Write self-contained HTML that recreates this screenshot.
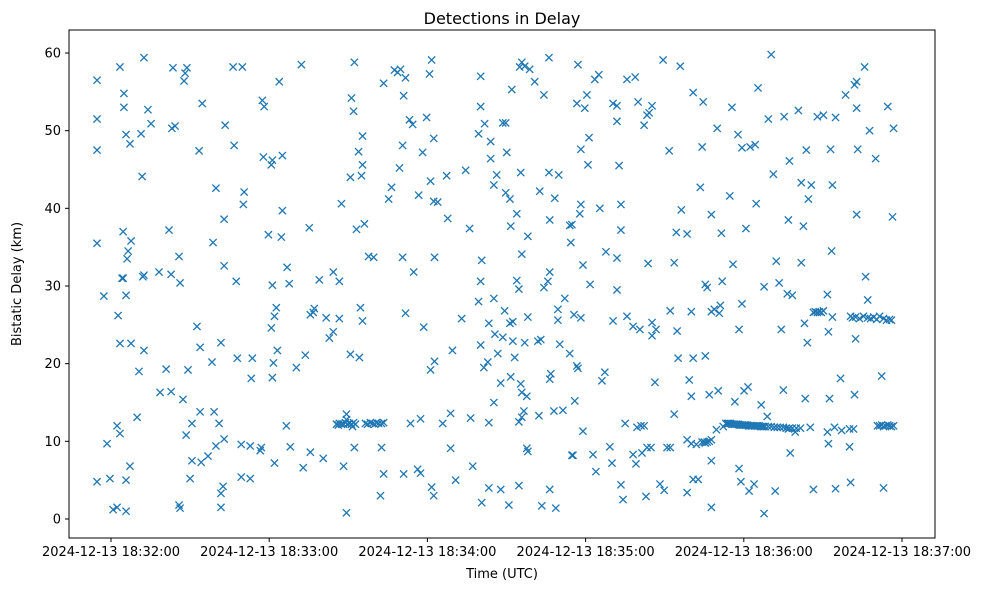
<!DOCTYPE html>
<html><head><meta charset="utf-8"><style>
html,body{margin:0;padding:0;background:#fff}
svg{display:block;font-family:"DejaVu Sans","Liberation Sans",sans-serif}
</style></head><body>
<svg id="chart" width="986" height="590" viewBox="0 0 986 590" xmlns="http://www.w3.org/2000/svg">
<rect x="0" y="0" width="986" height="590" fill="#fff"/>
<text x="502" y="24" text-anchor="middle" font-size="16" fill="#000">Detections in Delay</text>
<g id="marks"></g>
<rect x="69" y="30" width="866" height="508" fill="none" stroke="#000" stroke-width="1"/>
<g id="xticks"></g>
<g id="yticks"></g>
<text x="502" y="578" text-anchor="middle" font-size="13" fill="#000">Time (UTC)</text>
<text transform="translate(21,284) rotate(-90)" text-anchor="middle" font-size="13" fill="#000">Bistatic Delay (km)</text>
</svg>
<script>
// time in seconds after 18:32:00 UTC, delay in km
const xTickSeconds=[0,60,120,180,240,300];
const xTickLabels=["2024-12-13 18:32:00","2024-12-13 18:33:00","2024-12-13 18:34:00","2024-12-13 18:35:00","2024-12-13 18:36:00","2024-12-13 18:37:00"];
const yTickValues=[0,10,20,30,40,50,60];
const detections=[
[-5.3,56.5],[-5.3,51.5],[-5.3,47.5],[-5.3,35.5],[-5.3,4.8],[-2.7,28.7],[-1.5,9.7],[-0.4,5.2],[0.8,1.2],[2.3,1.5],[2.3,12],[2.7,26.2],
[3.4,58.2],[3.4,22.6],[3.4,11],[4.2,31],[4.6,37],[4.6,31],[4.9,54.8],[4.9,53],[5.7,49.5],[5.7,28.8],[5.7,5],[5.7,1],[6.1,33.5],[6.5,34.5],
[7.2,48.3],[7.2,6.8],[7.6,35.8],[7.6,22.6],[9.9,13.1],[10.6,19],[11.4,49.6],[11.8,44.1],[12.1,31.2],[12.5,21.7],[12.5,59.4],[12.5,31.4],
[14,52.7],[15.2,50.9],[18.2,31.8],[18.6,16.3],[20.9,19.3],[22,37.2],[22.8,16.4],[22.8,31.5],[23.1,50.3],[23.5,58.1],[24.3,50.6],
[25.8,1.8],[25.8,33.8],[26.2,1.4],[26.2,30.4],[27.3,15.4],[27.7,56.4],[28.1,57.4],[28.5,10.8],[28.8,58.1],[29.2,19.2],[30,5.2],[30.7,12.3],[30.7,7.5],
[32.6,24.8],[33.4,47.4],[33.8,22.1],[33.8,13.8],[34.2,7.3],[34.6,53.5],[36.8,8.1],[38.3,20.2],[38.7,35.6],[39.1,13.8],[39.8,42.6],[39.8,9.4],
[41,12.3],[41.7,1.5],[41.7,3.3],[41.7,22.7],[42.5,4.2],[42.9,38.6],[42.9,32.6],[42.9,10.3],[43.3,50.7],[46.3,58.2],[46.7,48.1],[47.5,30.6],[47.9,20.7],
[49.4,9.6],[49.4,5.4],[49.8,58.2],[50.2,40.5],[50.5,42.1],[52.8,9.4],[52.8,5.2],[53.2,18.1],[53.6,20.7],[56.6,8.8],[57,9.2],[57.4,53.9],[57.8,46.6],[58.1,53.1],
[59.7,36.6],[60.8,45.6],[60.8,24.6],[61.2,46.2],[61.2,30.1],[61.2,18.2],[61.6,20.1],[62,26.1],[62,7.2],[62.7,27.2],[63.1,21.7],[63.8,56.3],[64.6,36.3],[65,46.8],[65,39.7],
[66.5,12],[66.8,32.4],[67.6,30.3],[68,9.3],[70.3,19.5],[72.2,58.5],[72.9,6.6],[73.7,21.1],[75.2,37.5],[75.6,26.3],[75.6,8.6],[76.7,26.6],[77.1,27.1],[79,30.8],
[80.5,7.8],[81.6,25.9],[82.8,23.3],[84.3,31.8],[84.3,24.1],[86.6,25.8],[86.6,30.6],[87.4,40.6],[88.2,6.8],[89.3,0.8],
[85.5,12.2],[86.2,12.1],[86.6,12.3],[87.4,12.2],[88.2,12.2],[88.9,12.4],[89.3,12.8],[89.3,13.5],[89.7,12.2],[90.4,12.3],[91.2,12.2],[92,12.4],[92.7,12.2],[91.6,11.9],
[90.8,21.2],[90.8,44],[91.2,54.2],[92,52.5],[92.3,58.8],[92.3,9.2],[93.1,37.3],[93.9,47.3],[94.2,20.8],[94.6,27.2],[95,44.2],[95.4,25.5],[95.4,45.6],[95.4,49.3],[96.1,38],[97.7,33.8],[99.6,33.7],
[96.5,12.3],[97.3,12.2],[98.4,12.4],[99.2,12.3],[100,12.2],[100.7,12.4],[101.5,12.3],[102.6,12.3],[103.4,12.4],
[102.2,3],[102.6,9.2],[103.4,5.8],[103.4,56.1],[105.3,41.2],[106.4,42.7],[107.5,57.8],[108.7,57.5],[109.4,45.2],[109.8,57.9],[110.6,48.1],[110.6,33.7],[111,54.5],[111,5.8],
[111.7,26.5],[111.7,56.8],[113.2,51.4],[113.6,12.3],[114.4,50.8],[114.8,31.8],[116.3,6.4],[116.7,41.7],[117.4,5.9],[117.4,12.9],[118.2,47.2],[118.6,24.7],[119.7,51.7],
[120.8,57.3],[121.2,43.5],[121.2,19.2],[121.6,59.1],[121.6,4.1],[122.4,49],[122.4,40.9],[122.4,3],[122.7,33.7],[122.7,20.3],[123.9,40.8],[125.8,12.3],[127.3,44.2],[127.7,38.7],
[128.8,13.6],[128.8,9.1],[129.5,21.7],[130.7,5],[133,25.8],[134.5,44.9],[136,37.4],[136.4,13],[137.2,6.8],[139.4,49.6],[139.4,28],[140.2,57],[140.2,53.1],[140.2,30.6],[140.2,22.4],
[140.6,33.3],[140.6,2.1],[141.4,19.5],[141.7,50.9],[142.9,20.2],[143.3,25.2],[143.3,12.4],[143.3,4],[144,48.6],[144,46.4],[145.2,43],[145.2,28.4],[145.2,15],[145.6,23.8],[146.3,44.3],[146.7,21.3],
[147.8,17.5],[147.8,3.8],[148.6,23.4],[148.6,51],[149.3,26.8],[149.7,42],[149.7,51],[150.1,47.2],[150.9,1.8],[151.3,41.2],[151.3,25.2],[151.6,37.7],[151.6,18.3],[152,55.3],[152.4,25.4],[152.4,22.9],
[153.1,20.8],[153.9,39.3],[153.9,30.7],[154.7,29.6],[154.7,12.5],[154.7,4.3],[155,58.2],[155.4,44.6],[155.4,17.4],[155.8,58.8],[155.8,34.1],[155.8,16.3],[155.8,13.1],[156.6,13.9],
[156.9,58.3],[156.9,22.7],[157.7,9.1],[157.7,15.8],[158.1,36.4],[158.1,26],[158.1,8.7],[158.8,57.9],[160.7,56.3],[161.9,22.9],[162.3,13.3],[162.6,42.2],[163,23.1],[163.4,1.7],
[164.2,54.6],[164.2,29.8],[165.7,30.6],[166.1,44.6],[166.1,59.4],[166.4,18],[166.4,31.8],[166.4,38.5],[166.4,3.8],[166.8,18.7],[168,13.9],[168.3,41.3],[168.7,1.4],[169.5,25.6],[169.5,27],
[169.8,44.3],[170.2,22.5],[171.4,14],[172.1,28.4],[174,21.3],[174,37.8],[174.4,35.6],[174.8,8.2],[174.8,37.9],[175.2,8.2],[175.6,26.3],[175.9,15.2],[176.7,19.7],[176.7,53.5],[177.1,19.4],[177.1,58.5],
[177.8,39.3],[178.2,47.6],[178.2,40.5],[178.2,25.9],[179,32.7],[179,11.3],[179.7,52.9],[180.5,54.6],[180.9,45.6],[181.3,49.1],[181.7,30.2],[182.8,8.3],[183.5,56.6],[183.9,6.1],[185,57.2],[185.4,40],
[186.2,17.8],[187.3,18.9],[187.7,34.4],[189.2,9.3],[190,7.2],[190.4,25.5],[190.4,53.5],[191.9,53.2],[191.9,51.2],[191.9,29.5],[191.9,33.6],[192.7,45.5],[193.4,40.5],[193.4,37.2],[193.4,4.4],
[194.2,2.5],[195,12.3],[195.7,26.1],[195.7,56.6],[198,24.8],[198,8.3],[198.8,56.9],[199.1,7.1],[199.5,11.8],[199.9,53.7],[200.6,24.4],[201,12],[201.4,8.5],[202.2,50.7],[202.2,12],[202.9,2.9],
[203.3,52],[203.3,9.2],[203.7,32.9],[204.1,52.3],[204.8,9.2],[205.2,53.2],[205.2,25.3],[205.2,23.6],[206.3,17.6],[206.7,24.4],[208.2,4.5],[209.4,59.1],[209.8,3.7],[210.9,9.2],[211.7,47.4],
[212.1,9.2],[212.1,26.8],[213.6,13.5],[213.6,33],[214.4,36.9],[214.7,24.2],[215.1,20.7],[215.9,58.3],[216.3,39.8],[218.5,3.4],[218.5,10.2],[218.5,36.7],[219.3,17.9],[220.1,9.7],[220.1,15.8],[220.1,26.7],
[220.8,20.7],[220.8,54.9],[220.8,5.1],[222,9.6],[222.7,5.1],[223.5,42.7],[224.2,47.9],[224.2,9.9],[224.6,53.7],[225,9.9],[225.4,30.2],[225.4,21],[225.4,9.8],[226.1,29.8],[226.1,9.9],[226.9,16],[226.9,10],
[227.7,1.5],[227.7,26.7],[227.7,39.2],[227.7,7.5],[227.7,10.2],[228.8,27],[229.6,11.5],[229.9,50.3],[230.3,16.5],[230.7,26.5],[231.1,27.5],[231.5,36.8],[231.8,30.6],[232.2,11.9],
[233.2,12.3],[233.8,12.3],[234.3,12.3],[234.9,12.3],[235.5,12.2],[236,12.2],[236.6,12.2],[237.2,12.2],[237.8,12.2],[238.3,12.1],[238.9,12.1],[239.5,12.1],[240.1,12.1],[240.6,12.1],
[241.2,12.1],[241.8,12],[242.4,12],[242.9,12],[243.5,12],[244.1,12],[244.7,12],[245.2,12],[245.8,12],[246.4,11.9],[247,11.9],[247.5,11.9],[248.1,11.9],[249.3,11.9],[250.4,11.9],
[251.6,11.8],[252.7,11.8],[253.8,11.8],[255,11.8],[256.1,11.7],[257.3,11.7],[258.4,11.7],[259.9,11.7],[261.5,11.7],
[234.7,41.6],[235.5,53],[235.9,32.8],[236.6,15.1],[237.8,49.5],[238.2,6.5],[238.2,24.4],[238.9,4.8],[239.3,47.8],[239.3,27.7],[240.1,16.5],[240.8,37.4],[241.6,17],[242,3.6],[242.4,47.9],
[243.9,4.5],[244.3,48.2],[244.7,40.6],[245.4,55.5],[246.6,14.7],[247.7,0.7],[247.7,29.9],[248.9,13.2],[249.3,51.5],[250.4,59.8],[251.2,44.4],[251.9,3.6],[252.3,33.2],[253.4,30.4],[254.2,24.4],
[255,16.6],[255.3,51.8],[256.5,29],[256.9,38.5],[256.9,11.6],[257.3,46.1],[257.6,8.5],[258.4,28.8],[259.5,11.2],[260.7,52.6],[261.8,43.3],[261.8,33],[262.6,37.7],[263,25.2],[263.3,15.5],
[263.7,47.5],[264.1,22.7],[264.5,41.2],[265.2,11.8],[265.6,43],
[266.4,26.6],[267.1,26.7],[267.9,26.6],[268.6,26.7],[269.4,26.6],[270.2,26.8],
[266.4,3.8],[267.9,51.8],[270.2,52],[271.7,28.9],[271.7,11.2],[272.1,24.1],[272.1,9.7],[272.5,15.5],[272.9,47.6],[273.3,34.5],[273.6,43],[273.6,26],[274.4,11.8],[274.8,3.9],[274.8,51.7],
[276.7,18.1],[277.1,11.4],[278.6,54.6],[280.1,9.3],[280.1,11.6],[280.5,4.7],[281.6,11.6],[282,55.9],[282,16],[282.4,23.2],[282.8,56.3],[282.8,52.9],[282.8,39.2],[283.2,47.6],
[285.8,58.2],[286.2,31.2],[287,28.2],[287.7,50],[290,46.4],[292.3,18.4],[293,4],[294.6,53.1],[296.4,38.9],[296.8,50.3],
[280.5,26.1],[281.2,25.9],[282.4,26],[283.9,25.8],[285.4,26.1],[287,25.9],[288.1,25.8],[289.3,26],[290.4,25.7],[291.5,26.1],[293,25.8],[294.1,25.6],[295.3,25.7],[296,25.6],
[290.7,12],[291.5,12],[292.3,12.1],[293,11.9],[293.8,12],[294.6,12.1],[295.3,12],[296,11.9],[296.8,12]
];
const NS="http://www.w3.org/2000/svg";
const PX0=111, PXPERSEC=158.2/60, PY0=519, PYPERKM=466/60;
function xScale(t){return PX0+t*PXPERSEC;}
function yScale(v){return PY0-v*PYPERKM;}
const marks=document.getElementById('marks');
detections.forEach(function(p,i){
  const cx=xScale(p[0]), cy=yScale(p[1]), r=3.6;
  const path=document.createElementNS(NS,'path');
  path.setAttribute('d','M'+(cx-r)+' '+(cy-r)+'L'+(cx+r)+' '+(cy+r)+'M'+(cx-r)+' '+(cy+r)+'L'+(cx+r)+' '+(cy-r));
  path.setAttribute('stroke','#1f77b4');
  path.setAttribute('stroke-width','1.3');
  path.setAttribute('fill','none');
  
  
  marks.appendChild(path);
});
const xt=document.getElementById('xticks');
xTickSeconds.forEach(function(s,i){
  const x=xScale(s);
  const ln=document.createElementNS(NS,'line');
  ln.setAttribute('x1',x);ln.setAttribute('x2',x);ln.setAttribute('y1',538);ln.setAttribute('y2',542);
  ln.setAttribute('stroke','#000');
  
  
  xt.appendChild(ln);
  const tx=document.createElementNS(NS,'text');
  tx.setAttribute('x',x);tx.setAttribute('y',556);tx.setAttribute('text-anchor','middle');tx.setAttribute('font-size','13');
  tx.textContent=xTickLabels[i];
  
  
  xt.appendChild(tx);
});
const yt=document.getElementById('yticks');
yTickValues.forEach(function(v){
  const y=yScale(v);
  const ln=document.createElementNS(NS,'line');
  ln.setAttribute('x1',65);ln.setAttribute('x2',69);ln.setAttribute('y1',y);ln.setAttribute('y2',y);
  ln.setAttribute('stroke','#000');
  
  
  yt.appendChild(ln);
  const tx=document.createElementNS(NS,'text');
  tx.setAttribute('x',61);tx.setAttribute('y',y+4.5);tx.setAttribute('text-anchor','end');tx.setAttribute('font-size','13');
  tx.textContent=String(v);
  
  
  yt.appendChild(tx);
});
</script>
</body></html>
